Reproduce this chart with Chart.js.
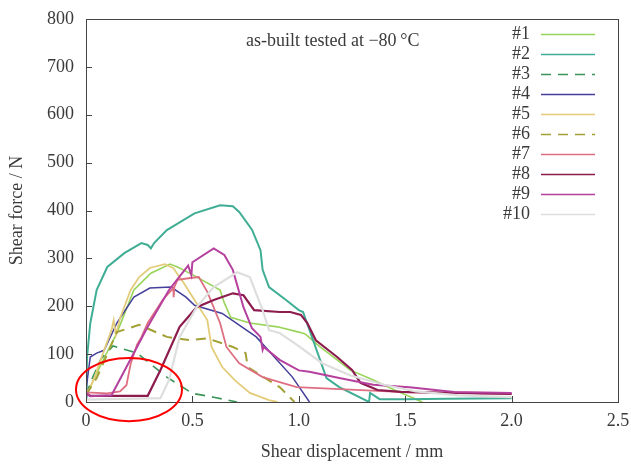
<!DOCTYPE html>
<html>
<head>
<meta charset="utf-8">
<script src="https://cdn.jsdelivr.net/npm/chart.js@4/dist/chart.umd.min.js"></script>
<style>
  html, body { margin: 0; padding: 0; background: #fff; }
  #chart { display: block; }
</style>
</head>
<body>
<canvas id="chart" width="631" height="465"></canvas>
<script>
// specimen curves, shear displacement (mm) vs shear force (N)
const labels = ['#1', '#2', '#3', '#4', '#5', '#6', '#7', '#8', '#9', '#10'];

const x1 = [0, 0.014, 0.05, 0.1, 0.145, 0.225, 0.305, 0.395, 0.43, 0.5, 0.63, 0.65, 0.68, 0.77, 0.9, 1.0, 1.03, 1.1, 1.18, 1.24, 1.35, 1.45, 1.58];
const y1 = [20, 25, 60, 105, 144, 234, 269, 288, 282, 266, 234, 207, 177, 165, 157, 146, 142, 115, 88, 67, 46, 25, 0];

const x2 = [0, 0.003, 0.005, 0.02, 0.05, 0.1, 0.18, 0.26, 0.29, 0.305, 0.32, 0.38, 0.51, 0.63, 0.69, 0.72, 0.78, 0.82, 0.83, 0.86, 0.94, 1.0, 1.02, 1.1, 1.13, 1.19, 1.33, 1.335, 1.38, 1.5, 1.7, 2.0];
const y2 = [10, 60, 94, 164, 234, 282, 311, 332, 328, 321, 332, 359, 394, 411, 409, 397, 360, 317, 276, 240, 213, 192, 188, 88, 50, 31, 0, 19, 6, 6, 7, 8];

const x3 = [0, 0.03, 0.07, 0.127, 0.24, 0.38, 0.5, 0.6, 0.71];
const y3 = [15, 50, 90, 117, 102, 52, 18, 10, 0];

const x4 = [0, 0.02, 0.05, 0.085, 0.145, 0.225, 0.3, 0.4, 0.47, 0.51, 0.64, 0.8, 0.97, 1.05];
const y4 = [25, 94, 102, 108, 165, 219, 238, 240, 219, 202, 185, 136, 52, 0];

const x5 = [0, 0.02, 0.04, 0.085, 0.12, 0.13, 0.14, 0.16, 0.21, 0.25, 0.3, 0.37, 0.41, 0.46, 0.51, 0.57, 0.59, 0.64, 0.7, 0.77, 0.86, 0.9];
const y5 = [18, 30, 52, 108, 150, 171, 140, 175, 234, 261, 280, 288, 280, 248, 213, 171, 115, 73, 45, 19, 4, 0];

const x6 = [0, 0.05, 0.1, 0.145, 0.25, 0.38, 0.49, 0.57, 0.69, 0.75, 0.76, 0.91, 0.98];
const y6 = [15, 50, 100, 146, 161, 136, 129, 133, 115, 102, 73, 31, 0];

const x7 = [0, 0.1, 0.16, 0.19, 0.21, 0.24, 0.26, 0.29, 0.36, 0.41, 0.412, 0.415, 0.43, 0.49, 0.53, 0.57, 0.63, 0.66, 0.72, 0.83, 0.99, 1.52, 2.0];
const y7 = [20, 18, 22, 35, 80, 120, 135, 165, 213, 238, 219, 240, 255, 259, 261, 230, 165, 115, 81, 52, 31, 20, 17];

const x8 = [0, 0.02, 0.29, 0.35, 0.44, 0.52, 0.6, 0.69, 0.74, 0.79, 0.91, 0.96, 1.01, 1.04, 1.08, 1.18, 1.25, 1.29, 1.37, 1.48, 2.0];
const y8 = [18, 13, 13, 67, 157, 198, 213, 227, 223, 192, 188, 188, 182, 165, 129, 94, 67, 40, 25, 21, 17];

const x9 = [0, 0.02, 0.12, 0.19, 0.29, 0.39, 0.48, 0.495, 0.5, 0.6, 0.65, 0.69, 0.74, 0.78, 0.82, 0.83, 0.835, 0.91, 1.0, 1.05, 1.19, 1.35, 1.52, 1.73, 2.0];
const y9 = [18, 12, 14, 73, 157, 234, 285, 265, 292, 321, 307, 276, 198, 154, 136, 109, 115, 88, 66, 63, 50, 36, 31, 21, 19];

const x10 = [0, 0.35, 0.39, 0.44, 0.52, 0.6, 0.71, 0.77, 0.83, 0.86, 0.91, 0.99, 1.11, 1.24, 1.4, 1.55, 1.75, 2.0];
const y10 = [5, 8, 46, 136, 198, 240, 271, 261, 192, 150, 144, 120, 81, 56, 36, 22, 14, 10];

const xTicks = [0, 0.5, 1, 1.5, 2, 2.5];
const yTicks = [0, 100, 200, 300, 400, 500, 600, 700, 800];

// red ring marking the initial region (centre and radii in data units)
const ringCenter = [0.202, 26];
const ringRadius = [0.249, 66];

const xs = [x1, x2, x3, x4, x5, x6, x7, x8, x9, x10];
const ys = [y1, y2, y3, y4, y5, y6, y7, y8, y9, y10];
const colors = ['#99d45a', '#40ad95', '#3a9558', '#433f9a', '#e3cc7a', '#a3a035', '#de6f82', '#8c1c4e', '#b5409e', '#dedede'];
const dashes = [[], [], [10, 7], [], [], [10, 7], [], [], [], []];
const widths = [1.6, 2, 1.6, 1.5, 1.8, 2, 1.8, 2.2, 2, 2.2];

const FONT = "'Liberation Serif', 'DejaVu Serif', serif";
const TXT = '#3a3a3a';

function pts(xa, ya) {
  let out = [];
  for (let k = 0; k < xa.length; k++) out.push({x: xa[k], y: ya[k]});
  return out;
}

let datasets = labels.map((lab, i) => ({
  label: lab,
  data: pts(xs[i], ys[i]),
  showLine: true,
  borderColor: colors[i],
  backgroundColor: colors[i],
  borderWidth: widths[i],
  borderDash: dashes[i],
  pointRadius: 0,
  tension: 0,
  fill: false,
  order: 10 - i
}));

const decor = {
  id: 'decor',
  afterDraw(chart) {
    const c = chart.ctx;
    const a = chart.chartArea;
    const sx = chart.scales.x, sy = chart.scales.y;
    c.save();
    // frame
    c.strokeStyle = '#444';
    c.lineWidth = 1;
    c.strokeRect(a.left + 0.5, a.top + 0.5, a.right - a.left, a.bottom - a.top);
    // inward ticks
    c.beginPath();
    xTicks.forEach(v => {
      const p = Math.round(sx.getPixelForValue(v)) + 0.5;
      c.moveTo(p, a.bottom);
      c.lineTo(p, a.bottom - 6);
    });
    yTicks.forEach(v => {
      const p = Math.round(sy.getPixelForValue(v)) + 0.5;
      c.moveTo(a.left, p);
      c.lineTo(a.left + 6, p);
    });
    c.stroke();

    // annotation
    c.fillStyle = TXT;
    c.font = '18px ' + FONT;
    c.textBaseline = 'middle';
    c.textAlign = 'left';
    c.fillText('as-built tested at \u221280\u2009\u00B0C', 246, 41);

    // legend
    chart.data.datasets.forEach((ds, i) => {
      const yy = 34 + i * 20;
      c.fillStyle = TXT;
      c.textAlign = 'right';
      c.fillText(ds.label, 530, yy);
      c.strokeStyle = ds.borderColor;
      c.lineWidth = 1.5;
      c.setLineDash(ds.borderDash);
      c.beginPath();
      c.moveTo(541, yy + 0.5);
      c.lineTo(595, yy + 0.5);
      c.stroke();
      c.setLineDash([]);
    });

    // red ring
    const cx = sx.getPixelForValue(ringCenter[0]);
    const cy = sy.getPixelForValue(ringCenter[1]);
    const rx = sx.getPixelForValue(ringCenter[0] + ringRadius[0]) - cx;
    const ry = cy - sy.getPixelForValue(ringCenter[1] + ringRadius[1]);
    c.strokeStyle = '#ff0000';
    c.lineWidth = 2;
    c.beginPath();
    c.ellipse(cx, cy, rx, ry, 0, 0, Math.PI * 2);
    c.stroke();
    c.restore();
  }
};

new Chart(document.getElementById('chart').getContext('2d'), {
  type: 'scatter',
  data: { datasets: datasets },
  options: {
    responsive: false,
    animation: false,
    events: [],
    layout: { padding: { top: 19, right: 13, left: 0, bottom: 0 } },
    plugins: { legend: { display: false }, tooltip: { enabled: false } },
    scales: {
      x: {
        type: 'linear', min: 0, max: 2.5,
        afterBuildTicks: s => { s.ticks = xTicks.map(v => ({value: v})); },
        afterFit: s => { s.height = 63; },
        grid: { display: false },
        border: { display: false },
        ticks: { color: TXT, font: { family: FONT, size: 18 }, padding: 0 },
        title: { display: true, text: 'Shear displacement / mm', color: TXT,
                 font: { family: FONT, size: 18 }, padding: { top: 0, bottom: 2 } }
      },
      y: {
        type: 'linear', min: 0, max: 800,
        afterBuildTicks: s => { s.ticks = yTicks.map(v => ({value: v})); },
        afterFit: s => { s.width = 86; },
        grid: { display: false },
        border: { display: false },
        ticks: { color: TXT, font: { family: FONT, size: 18 }, padding: 4 },
        title: { display: true, text: 'Shear force / N', color: TXT,
                 font: { family: FONT, size: 18 }, padding: { top: 6, bottom: 0 } }
      }
    }
  },
  plugins: [decor]
});
</script>
</body>
</html>
